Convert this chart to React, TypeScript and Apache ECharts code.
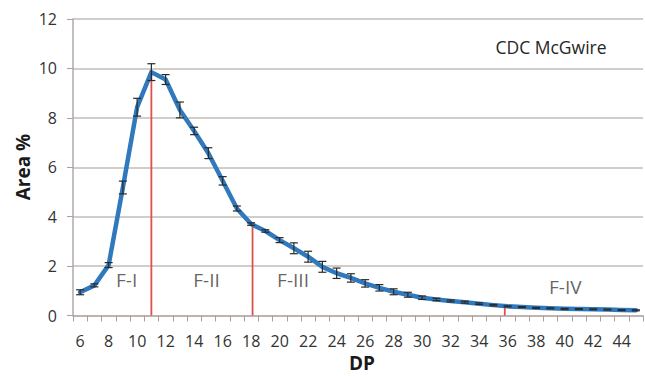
import React, { useEffect, useRef } from "react";
import * as echarts from "echarts";

const categories = ["6","7","8","9","10","11","12","13","14","15","16","17","18","19","20","21","22","23","24","25","26","27","28","29","30","31","32","33","34","35","36","37","38","39","40","41","42","43","44","45"];
const areaValues = [0.94,1.22,2.04,5.18,8.43,9.85,9.55,8.32,7.47,6.57,5.45,4.33,3.70,3.42,3.05,2.72,2.38,1.97,1.71,1.52,1.30,1.12,0.96,0.84,0.72,0.65,0.59,0.54,0.48,0.42,0.37,0.34,0.31,0.29,0.27,0.26,0.25,0.24,0.22,0.21];
const errValues = [0.1,0.06,0.1,0.26,0.36,0.34,0.2,0.32,0.15,0.22,0.17,0.1,0.05,0.05,0.1,0.22,0.22,0.22,0.21,0.17,0.15,0.13,0.12,0.1,0.07,0.05,0.04,0.04,0.03,0.03,0.02,0.02,0.02,0.02,0.02,0.02,0.02,0.02,0.02,0.02];
const fractionBounds = [[11, 9.85], [18.1, 3.69], [35.8, 0.4]];
const fractionLabels = [
  { name: "F-I", x: 9.26, y: 1.44 },
  { name: "F-II", x: 14.87, y: 1.44 },
  { name: "F-III", x: 20.94, y: 1.44 },
  { name: "F-IV", x: 40.05, y: 1.17 },
];
const yTicks = { min: 0, max: 12, interval: 2 };

const FONT = "'Open Sans', 'Noto Sans', sans-serif";

export default function App() {
  const ref = useRef<HTMLDivElement>(null);
  useEffect(() => {
    if (!ref.current) return;
    const chart = echarts.init(ref.current, null, { renderer: "svg" });
    chart.setOption({
      animation: false,
      backgroundColor: "#ffffff",
      grid: { left: 73, right: 2, top: 19, bottom: 61.5, containLabel: false },
      xAxis: [
        {
          type: "category",
          data: categories,
          boundaryGap: true,
          axisLine: { show: true, lineStyle: { color: "#b9a9a6", width: 1.5 } },
          axisTick: { show: true, interval: 0, length: 6, lineStyle: { color: "#a9a09c", width: 1 } },
          axisLabel: { interval: 1, margin: 17, fontSize: 16, color: "#333333", fontFamily: FONT },
          splitLine: { show: false },
        },
        { type: "value", min: 5.5, max: 45.5, show: false },
      ],
      yAxis: {
        type: "value",
        min: yTicks.min,
        max: yTicks.max,
        interval: yTicks.interval,
        axisLine: { show: true, lineStyle: { color: "#b0aaa8", width: 1.5 } },
        axisTick: { show: true, length: 6, lineStyle: { color: "#a9a09c" } },
        axisLabel: { margin: 16, fontSize: 16, color: "#333333", fontFamily: FONT },
        splitLine: { show: true, lineStyle: { color: "#c4bcb8", width: 1.6 } },
      },
      graphic: [
        {
          type: "text",
          x: 23,
          y: 167,
          rotation: Math.PI / 2,
          style: { text: "Area %", font: `bold 19px ${FONT}`, fill: "#1a1a1a", align: "center", verticalAlign: "middle" },
        },
        {
          type: "text",
          x: 362,
          y: 363,
          style: { text: "DP", font: `bold 19px ${FONT}`, fill: "#1a1a1a", align: "center", verticalAlign: "middle" },
        },
        {
          type: "text",
          x: 551,
          y: 47,
          style: { text: "CDC McGwire", font: `17.5px ${FONT}`, fill: "#262626", align: "center", verticalAlign: "middle" },
        },
      ],
      series: [
        {
          type: "custom",
          xAxisIndex: 1,
          z: 1,
          data: fractionBounds,
          renderItem: (params: any, api: any) => {
            const x = api.value(0);
            const top = api.coord([x, api.value(1)]);
            const bot = api.coord([x, 0]);
            return {
              type: "line",
              shape: { x1: top[0], y1: top[1], x2: bot[0], y2: bot[1] },
              style: { stroke: "#e0504a", lineWidth: 1.8 },
            };
          },
        },
        {
          type: "line",
          data: areaValues,
          z: 3,
          symbol: "none",
          lineStyle: { color: "#3079bd", width: 4.5, join: "round", cap: "round" },
        },
        {
          type: "custom",
          z: 4,
          data: areaValues.map((v, i) => [i, v, errValues[i]]),
          renderItem: (params: any, api: any) => {
            const i = api.value(0);
            const v = api.value(1);
            const e = api.value(2);
            const top = api.coord([i, v + e]);
            const bot = api.coord([i, v - e]);
            const h = 4;
            const st = { stroke: "#2a2a2a", lineWidth: 1.2 };
            return {
              type: "group",
              children: [
                { type: "line", shape: { x1: top[0], y1: top[1], x2: bot[0], y2: bot[1] }, style: st },
                { type: "line", shape: { x1: top[0] - h, y1: top[1], x2: top[0] + h, y2: top[1] }, style: st },
                { type: "line", shape: { x1: bot[0] - h, y1: bot[1], x2: bot[0] + h, y2: bot[1] }, style: st },
              ],
            };
          },
        },
        {
          type: "scatter",
          xAxisIndex: 1,
          z: 5,
          symbolSize: 0,
          data: fractionLabels.map((d) => ({ name: d.name, value: [d.x, d.y] })),
          label: {
            show: true,
            position: "inside",
            formatter: (p: any) => p.name,
            fontSize: 19,
            color: "#3a3a3a",
            fontFamily: FONT,
          },
        },
      ],
    });
    return () => chart.dispose();
  }, []);
  return <div ref={ref} style={{ position: "fixed", left: 0, top: 0, width: 645, height: 377 }} />;
}
